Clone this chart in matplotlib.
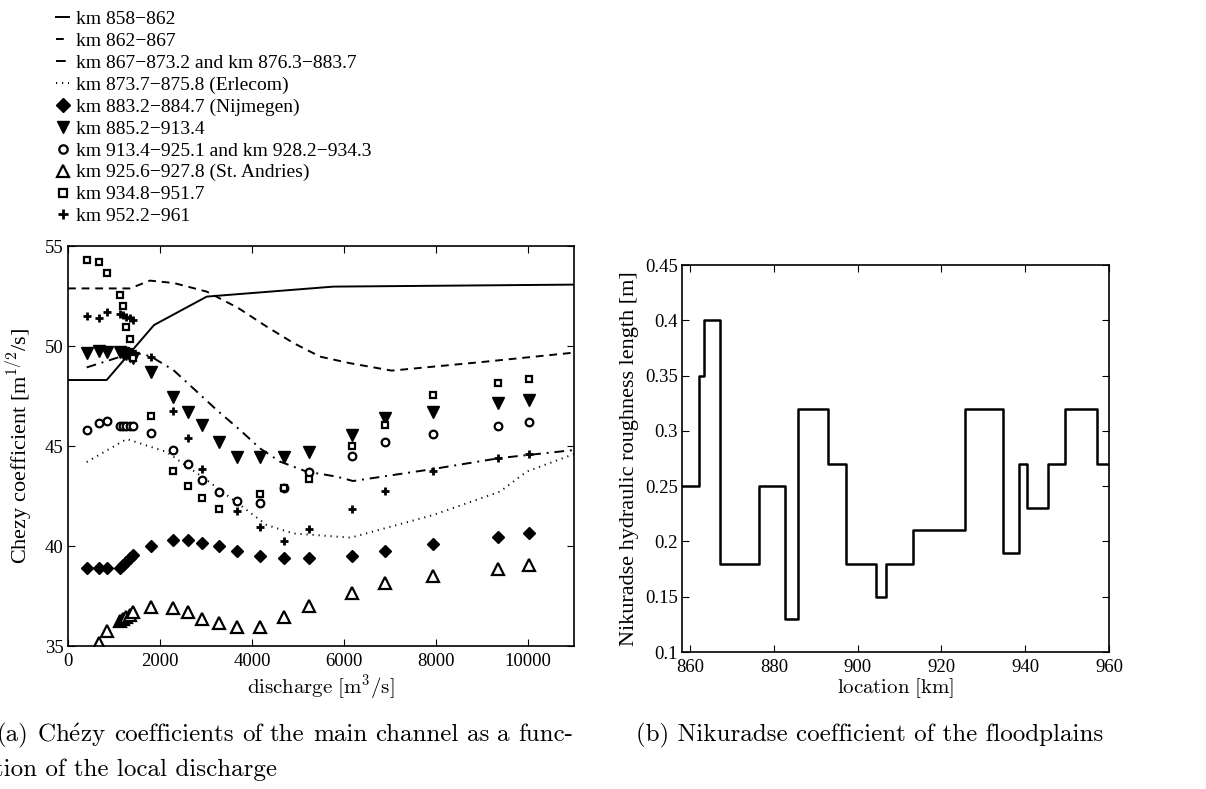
import numpy as np
import matplotlib
matplotlib.use('Agg')
import matplotlib.pyplot as plt

plt.rcParams['font.family'] = ['Liberation Serif', 'DejaVu Serif']
plt.rcParams['mathtext.fontset'] = 'cm'

# ---- data (a): Chezy coefficient vs discharge ----
q_solid = [0, 840, 1870, 3015, 5770, 11000]
c_solid = [48.3, 48.3, 51.05, 52.47, 52.97, 53.07]

q_dash = [0, 1350, 1780, 2300, 3015, 3700, 4318, 4900, 5478, 6130, 7036, 9000, 11000]
c_dash = [52.88, 52.88, 53.27, 53.15, 52.72, 51.9, 50.97, 50.15, 49.47, 49.14, 48.77, 49.2, 49.67]

q_dashdot = [406, 1420, 1783, 2290, 2725, 3233, 3739, 4174, 4609, 5188, 5840, 6196, 7935, 9391, 11000]
c_dashdot = [48.93, 49.67, 49.5, 48.8, 47.88, 46.8, 45.8, 44.88, 44.22, 43.72, 43.47, 43.25, 43.85, 44.4, 44.8]

q_dot = [406, 1275, 2145, 3015, 3739, 4318, 4900, 6150, 7935, 9391, 9970, 11000]
c_dot = [44.2, 45.35, 44.7, 43.3, 42.05, 41.05, 40.63, 40.42, 41.55, 42.72, 43.72, 44.6]

q_pts = [406, 674, 841, 1130, 1200, 1270, 1340, 1410, 1804, 2283, 2601, 2920,
         3283, 3681, 4166, 4703, 5246, 6166, 6892, 7942, 9355, 10016]
c_nijmegen = [38.92, 38.92, 38.92, 38.9, 39.05, 39.2, 39.4, 39.55, 40.02, 40.3, 40.3, 40.17,
              40.02, 39.77, 39.5, 39.42, 39.42, 39.5, 39.77, 40.08, 40.47, 40.63]
c_885 = [49.63, 49.75, 49.7, 49.7, 49.65, 49.6, 49.5, 49.4, 48.68, 47.47, 46.72, 46.05,
         45.22, 44.47, 44.47, 44.47, 44.68, 45.55, 46.38, 46.72, 47.13, 47.3]
c_913 = [45.8, 46.13, 46.25, 46.02, 46.02, 46.02, 46.02, 46.02, 45.67, 44.8, 44.12, 43.3,
         42.68, 42.25, 42.13, 42.88, 43.68, 44.5, 45.22, 45.6, 46.0, 46.18]
c_andries = [np.nan, 35.17, 35.73, 36.25, 36.35, 36.45, 36.55, 36.7, 36.97, 36.92, 36.72, 36.33,
             36.13, 35.97, 35.97, 36.47, 37.02, 37.63, 38.17, 38.5, 38.87, 39.03]
c_934 = [54.3, 54.18, 53.63, 52.55, 52.0, 50.97, 50.33, 49.4, 46.5, 43.75, 43.02, 42.42,
         41.83, np.nan, 42.58, 42.88, 43.33, 45.0, 46.05, 47.55, 48.17, 48.35]
c_952 = [51.5, 51.4, 51.72, 51.6, 51.55, 51.45, 51.4, 51.3, 49.47, 46.75, 45.42, 43.83,
         np.nan, 41.77, 40.97, 40.25, 40.83, 41.83, 42.75, 43.77, 44.38, 44.6]

labels = ['km 858\u2212862', 'km 862\u2212867', 'km 867\u2212873.2 and km 876.3\u2212883.7',
          'km 873.7\u2212875.8 (Erlecom)', 'km 883.2\u2212884.7 (Nijmegen)', 'km 885.2\u2212913.4',
          'km 913.4\u2212925.1 and km 928.2\u2212934.3', 'km 925.6\u2212927.8 (St. Andries)',
          'km 934.8\u2212951.7', 'km 952.2\u2212961']

# ---- data (b): Nikuradse roughness along the river ----
km_edges = [858, 862.1, 863.3, 867, 876.4, 882.7, 885.8, 892.9, 897.3, 904.4, 906.8,
            913.3, 925.6, 934.8, 938.4, 940.5, 945.5, 949.6, 957.1, 960]
k_values = [0.25, 0.35, 0.40, 0.18, 0.25, 0.13, 0.32, 0.27, 0.18, 0.15, 0.18,
            0.21, 0.32, 0.19, 0.27, 0.23, 0.27, 0.32, 0.27]

cap_a1 = r'(a) Ch$\mathrm{\acute{e}}$zy coefficients of the main channel as a func-'
cap_a2 = 'tion of the local discharge'
cap_b = '(b) Nikuradse coefficient of the floodplains'

fig = plt.figure(figsize=(12.06, 7.89), dpi=100)
ax1 = fig.add_axes([0.0564, 0.1812, 0.4196, 0.507])
ax2 = fig.add_axes([0.5655, 0.1736, 0.354, 0.4905])

lw = 1.4
h = []
h += ax1.plot(q_solid, c_solid, 'k-', lw=lw)
h += ax1.plot(q_dash, c_dash, 'k--', lw=lw, dashes=(4, 3))
h += ax1.plot(q_dashdot, c_dashdot, 'k-.', lw=lw, dashes=(5, 3, 1, 3))
h += ax1.plot(q_dot, c_dot, 'k:', lw=lw, dashes=(0.6, 2.5))
h += ax1.plot(q_pts, c_nijmegen, 'kD', ms=6.5, ls='none')
h += ax1.plot(q_pts, c_885, 'kv', ms=8, ls='none')
h += ax1.plot(q_pts, c_913, 'o', mfc='white', mec='k', mew=1.6, ms=5.5, ls='none')
h += ax1.plot(q_pts, c_andries, '^', mfc='white', mec='k', mew=1.6, ms=8, ls='none')
h += ax1.plot(q_pts, c_934, 's', mfc='white', mec='k', mew=1.6, ms=4.8, ls='none')
h += ax1.plot(q_pts, c_952, 'k+', mew=2, ms=6, ls='none')

ax1.set_xlim(0, 11000)
ax1.set_ylim(35, 55)
ax1.set_xticks([0, 2000, 4000, 6000, 8000, 10000])
ax1.set_yticks([35, 40, 45, 50, 55])
ax1.set_xlabel(r'$\mathrm{discharge\ [m^3/s]}$', fontsize=15, labelpad=2)
ax1.set_ylabel('Chezy coefficient [m$^{1/2}$/s]', fontsize=16, labelpad=8)

leg = fig.legend(h, labels, loc='upper left', bbox_to_anchor=(0.035, 1.004),
                 frameon=False, fontsize=14, handlelength=0.7, handletextpad=0.35,
                 labelspacing=0.22, borderpad=0.2, markerscale=1.1)

ax2.step(km_edges, k_values + [k_values[-1]], where='post', color='k', lw=1.8)
ax2.set_xlim(858, 960)
ax2.set_ylim(0.1, 0.45)
ax2.set_xticks([860, 880, 900, 920, 940, 960])
ax2.set_yticks([0.1, 0.15, 0.2, 0.25, 0.3, 0.35, 0.4, 0.45])
ax2.set_yticklabels(['0.1', '0.15', '0.2', '0.25', '0.3', '0.35', '0.4', '0.45'])
ax2.set_xlabel(r'$\mathrm{location\ [km]}$', fontsize=15, labelpad=0)
ax2.set_ylabel('Nikuradse hydraulic roughness length [m]', fontsize=16, labelpad=4)

for ax in (ax1, ax2):
    ax.tick_params(direction='in', top=True, right=True, length=5, width=0.8,
                   labelsize=13.5, pad=3)
    ax.tick_params(axis='x', pad=5)
    for s in ax.spines.values():
        s.set_linewidth(1.2)

# captions (LaTeX-like, first line justified)
cap_font = ['cmr10', 'DejaVu Serif']
cap_size = 18
W = fig.bbox.width
renderer = fig.canvas.get_renderer()
words = cap_a1.split(' ')
items = [fig.text(0, 0.068, w, family=cap_font, fontsize=cap_size, va='center')
         for w in words]
widths = [t.get_window_extent(renderer).width for t in items]
x0, x1 = -3.0, 573.0
gap = (x1 - x0 - sum(widths)) / (len(words) - 1)
x = x0
for t, w in zip(items, widths):
    t.set_x(x / W)
    x += w + gap
fig.text(-6 / W, 0.025, cap_a2, family=cap_font, fontsize=cap_size, va='center')
fig.text(636 / W, 0.068, cap_b, family=cap_font, fontsize=cap_size, va='center')

fig.savefig('out.png', dpi=100)
